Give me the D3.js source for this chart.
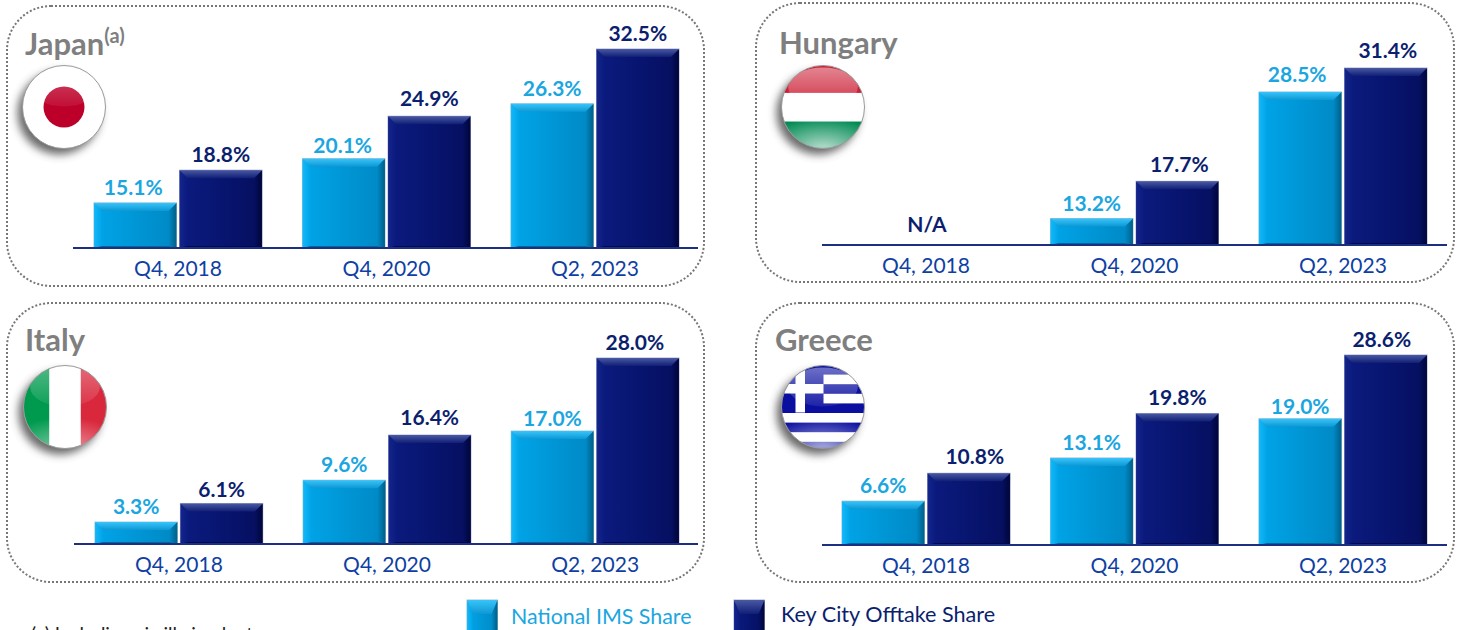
<!DOCTYPE html>
<html>
<head>
<meta charset="utf-8">
<script src="https://d3js.org/d3.v7.min.js"></script>
<style>
  body, html { margin: 0; padding: 0; background: #fff; overflow: hidden; }
  text { font-family: Lato, 'Open Sans', sans-serif; }
</style>
</head>
<body>
<svg id="chart" width="1462" height="630"></svg>
<script>
// values
const categories = ["Q4, 2018", "Q4, 2020", "Q2, 2023"];
const seriesNames = ["National IMS Share", "Key City Offtake Share"];
const japanNational = [15.1, 20.1, 26.3];
const japanKeyCity = [18.8, 24.9, 32.5];
const hungaryNational = [null, 13.2, 28.5];
const hungaryKeyCity = [null, 17.7, 31.4];
const italyNational = [3.3, 9.6, 17.0];
const italyKeyCity = [6.1, 16.4, 28.0];
const greeceNational = [6.6, 13.1, 19.0];
const greeceKeyCity = [10.8, 19.8, 28.6];

const svg = d3.select("#chart");
const defs = svg.append("defs");

function gradient(id, horizontal, stops) {
  const g = defs.append("linearGradient").attr("id", id)
    .attr("x1", 0).attr("y1", 0)
    .attr("x2", horizontal ? 1 : 0).attr("y2", horizontal ? 0 : 1);
  stops.forEach((c, i) => {
    const parts = c.split("@");
    g.append("stop").attr("offset", i / (stops.length - 1)).attr("stop-color", parts[0])
      .attr("stop-opacity", parts[1] || 1);
  });
}

// bevel colours for the two series
const barStyles = [
  { key: "l", text: "#1ba6e0", edge: "#9fc0d0", face: ["#00a6ea", "#0096d6", "#0088c4"], top: ["#38c4fa", "#0d98d4"], left: ["#12b8fa", "#12b8fa@0"], right: ["#005f88@0", "#005f88"], bottom: "#00699a" },
  { key: "d", text: "#0b1f6e", edge: "#a4accb", face: ["#0b1b80", "#081570", "#050f5e"], top: ["#4a59a3", "#101e76"], left: ["#13248c", "#13248c@0"], right: ["#00053a@0", "#00053a"], bottom: "#010a4c" }
];
barStyles.forEach(s => {
  gradient("face-" + s.key, true, s.face);
  gradient("top-" + s.key, false, s.top);
  gradient("left-" + s.key, true, s.left);
  gradient("right-" + s.key, true, s.right);
});
gradient("gloss", false, ["#ffffff@0.5", "#ffffff@0.1"]);

const glow = defs.append("radialGradient").attr("id", "glow")
  .attr("cx", 0.5).attr("cy", 1).attr("r", 0.75);
glow.append("stop").attr("offset", 0.1).attr("stop-color", "#fff").attr("stop-opacity", 0.65);
glow.append("stop").attr("offset", 1).attr("stop-color", "#fff").attr("stop-opacity", 0);

const shadow = defs.append("filter").attr("id", "flagShadow")
  .attr("x", "-30%").attr("y", "-30%").attr("width", "160%").attr("height", "160%");
shadow.append("feGaussianBlur").attr("stdDeviation", 4.5);

function bar(g, x, y, w, h, s, topH = 8, side = 8) {
  const botH = 2;
  topH = Math.min(topH, h / 2);
  g.append("rect").attr("x", x).attr("y", y).attr("width", w).attr("height", h)
    .attr("fill", "url(#face-" + s.key + ")").attr("stroke", s.edge).attr("stroke-width", 1);
  const poly = (pts, fill) => g.append("polygon").attr("points", pts.map(p => p.join(",")).join(" ")).attr("fill", fill);
  poly([[x, y], [x + side, y + topH], [x + side, y + h - botH], [x, y + h]], "url(#left-" + s.key + ")");
  poly([[x + w, y], [x + w - side, y + topH], [x + w - side, y + h - botH], [x + w, y + h]], "url(#right-" + s.key + ")");
  poly([[x, y + h], [x + side, y + h - botH], [x + w - side, y + h - botH], [x + w, y + h]], s.bottom);
  poly([[x, y], [x + w, y], [x + w - side, y + topH], [x + side, y + topH]], "url(#top-" + s.key + ")");
}

function drawFlag(cx, cy, art) {
  const r = 41.5;
  const id = "clip" + cx + cy;
  defs.append("clipPath").attr("id", id).append("circle").attr("cx", cx).attr("cy", cy).attr("r", r);
  svg.append("circle").attr("cx", cx - 5).attr("cy", cy + 6).attr("r", r)
    .attr("fill", "#444").attr("opacity", 0.8).attr("filter", "url(#flagShadow)");
  const g = svg.append("g").attr("clip-path", "url(#" + id + ")");
  g.append("rect").attr("x", cx - r).attr("y", cy - r).attr("width", r * 2).attr("height", r * 2).attr("fill", "#fff");
  art(g, cx, cy, r);
  return { g, r, cx, cy };
}

function glaze(f, strong, low) {
  // glass highlight on the top half of the ball, plus a soft glow low down
  f.g.append("ellipse").attr("cx", f.cx).attr("cy", f.cy - f.r * 0.48).attr("rx", f.r * 0.84).attr("ry", f.r * 0.47)
    .attr("fill", "url(#gloss)").attr("opacity", strong);
  f.g.append("rect").attr("x", f.cx - f.r).attr("y", f.cy).attr("width", f.r * 2).attr("height", f.r)
    .attr("fill", "url(#glow)").attr("opacity", low);
  svg.append("circle").attr("cx", f.cx).attr("cy", f.cy).attr("r", f.r)
    .attr("fill", "none").attr("stroke", "#9a9a9a").attr("stroke-width", 1);
}

// nudge: small label offsets per "series,category" where the slide placed them by hand
const panels = [
  { title: "Japan", sup: "(a)", nat: japanNational, key: japanKeyCity, box: [7, 6, 697, 280], axis: [73, 698], band: [94, 679], base: 248, top: 49, min: 10, titleX: 25, titleY: 55,
    nudge: { "0,0": [-2, 0], "0,1": [-1, 2], "1,1": [0, -2] } },
  { title: "Hungary", nat: hungaryNational, key: hungaryKeyCity, box: [756, 3, 698, 279], axis: [822, 1447], band: [842, 1427], base: 245, top: 68, min: 10, titleX: 779, titleY: 54,
    nudge: { "1,1": [2, -1], "0,2": [-3, -2], "1,2": [2, -2] } },
  { title: "Italy", nat: italyNational, key: italyKeyCity, box: [7, 303, 697, 279], axis: [74, 698], band: [95, 679], base: 544, top: 358, min: 0, titleX: 25, titleY: 351,
    nudge: { "1,0": [0, 2], "1,1": [0, -2], "0,2": [0, 3], "1,2": [-3, 0] } },
  { title: "Greece", nat: greeceNational, key: greeceKeyCity, box: [756, 303, 698, 279], axis: [822, 1447], band: [842, 1427], base: 545, top: 355, min: 0, titleX: 775, titleY: 351,
    nudge: { "1,0": [6, -1], "0,2": [0, 3], "1,2": [-4, 0] } }
];

panels.forEach(p => {
  svg.append("rect").attr("x", p.box[0]).attr("y", p.box[1]).attr("width", p.box[2]).attr("height", p.box[3])
    .attr("rx", 44).attr("fill", "none").attr("stroke", "#777").attr("stroke-width", 2).attr("stroke-dasharray", "2 2");

  const title = svg.append("text").attr("x", p.titleX).attr("y", p.titleY)
    .attr("fill", "#7f7f7f").attr("font-size", 31).attr("font-weight", 700).text(p.title);
  if (p.sup) title.append("tspan").attr("font-size", 20).attr("dy", -12).text(p.sup);

  const x = d3.scaleBand().domain(categories).range(p.band).paddingInner(0.194).paddingOuter(0);
  const sub = d3.scaleBand().domain(seriesNames).range([0, x.bandwidth()]).paddingInner(0.036);
  const maxV = d3.max(p.key);
  const y = d3.scaleLinear().domain([p.min, maxV]).range([p.base, p.top]);

  const g = svg.append("g");
  categories.forEach((c, i) => {
    [p.nat, p.key].forEach((vals, k) => {
      const v = vals[i];
      if (v == null) return;
      const bx = x(c) + sub(seriesNames[k]);
      const n = p.nudge[k + "," + i] || [0, 0];
      bar(g, bx, y(v), sub.bandwidth(), p.base - y(v), barStyles[k]);
      g.append("text").attr("x", bx + sub.bandwidth() / 2 + n[0]).attr("y", y(v) - 8 + n[1])
        .attr("text-anchor", "middle").attr("fill", barStyles[k].text)
        .attr("font-size", 21).attr("font-weight", 700).text(v.toFixed(1) + "%");
    });
    if (p.nat[i] == null) {
      g.append("text").attr("x", x(c) + x.bandwidth() / 2 + 1).attr("y", p.base - 13)
        .attr("text-anchor", "middle").attr("fill", barStyles[1].text)
        .attr("font-size", 21).attr("font-weight", 700).text("N/A");
    }
  });

  svg.append("line").attr("x1", p.axis[0]).attr("x2", p.axis[1]).attr("y1", p.base).attr("y2", p.base)
    .attr("stroke", "#1c2f80").attr("stroke-width", 2);

  const ax = svg.append("g").attr("transform", "translate(0," + p.base + ")")
    .call(d3.axisBottom(x).tickSize(0).tickPadding(13));
  ax.select(".domain").remove();
  ax.selectAll("text").attr("font-size", 21).attr("fill", "#0f3fa3").style("font-family", "Lato, sans-serif");
});

// flags
glaze(drawFlag(64, 107, (g, cx, cy) => {
  g.append("circle").attr("cx", cx).attr("cy", cy).attr("r", 20.5).attr("fill", "#bd0029");
}), 0.6, 0);
glaze(drawFlag(823, 107, (g, cx, cy, r) => {
  g.append("rect").attr("x", cx - r).attr("y", cy - r).attr("width", r * 2).attr("height", r * 0.66).attr("fill", "#cc1f35");
  g.append("rect").attr("x", cx - r).attr("y", cy + r * 0.35).attr("width", r * 2).attr("height", r * 0.65).attr("fill", "#008a52");
}), 0.9, 1);
glaze(drawFlag(65, 407, (g, cx, cy, r) => {
  g.append("rect").attr("x", cx - r).attr("y", cy - r).attr("width", r * 0.62).attr("height", r * 2).attr("fill", "#009a4e");
  g.append("rect").attr("x", cx + r * 0.38).attr("y", cy - r).attr("width", r * 0.62).attr("height", r * 2).attr("fill", "#d9283c");
}), 0.6, 0.7);
glaze(drawFlag(823, 407, (g, cx, cy, r) => {
  const blue = "#0a0fa0", h = 9.6;
  [0, 2, 4, 6, 8].forEach(i => {
    g.append("rect").attr("x", cx - r).attr("y", cy - 42 + i * h).attr("width", r * 2).attr("height", h).attr("fill", blue);
  });
  g.append("rect").attr("x", cx - r).attr("y", cy - r).attr("width", 42).attr("height", 47).attr("fill", blue);
  g.append("rect").attr("x", cx - r + 14).attr("y", cy - r).attr("width", 9.5).attr("height", 47).attr("fill", "#fff");
  g.append("rect").attr("x", cx - r).attr("y", cy - r + 18.5).attr("width", 42).attr("height", 9.5).attr("fill", "#fff");
}), 0.8, 0.9);

// legend, runs off the bottom of the page like the source slide
[[467, 511, 624], [734, 781, 622]].forEach((pos, k) => {
  const s = barStyles[k];
  const lg = svg.append("g");
  bar(lg, pos[0], 600, 30.5, 36, s, 14, 6);
  svg.append("text").attr("x", pos[1]).attr("y", pos[2]).attr("fill", s.text).attr("font-size", k ? 21.6 : 21.4).text(seriesNames[k]);
});
svg.append("text").attr("x", 31).attr("y", 641).attr("fill", "#222").attr("font-size", 19).text("(a) Including via illy in plant");
</script>
</body>
</html>
